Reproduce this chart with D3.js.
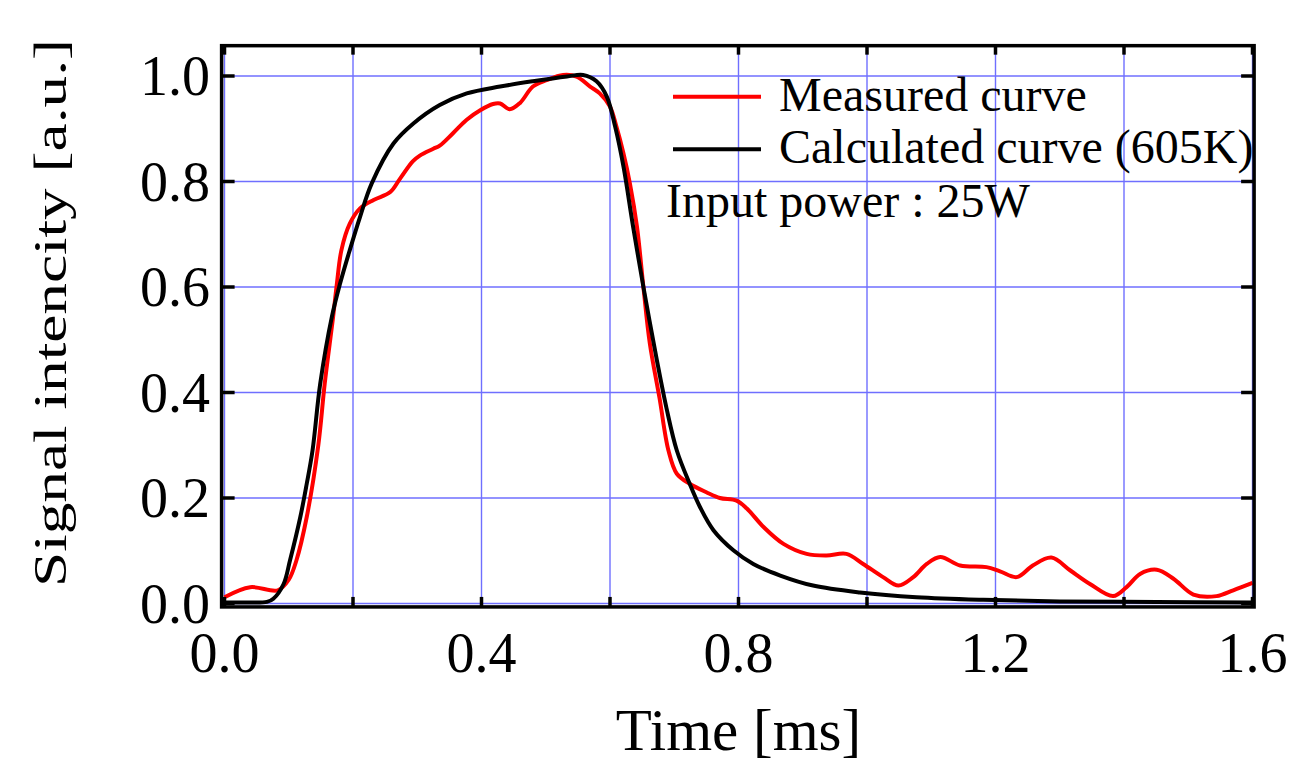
<!DOCTYPE html>
<html>
<head>
<meta charset="utf-8">
<script src="https://cdn.jsdelivr.net/npm/d3@7"></script>
<style>
  html, body { margin: 0; padding: 0; background: #fff; }
  svg { display: block; }
  text { font-family: "Liberation Serif", "Times New Roman", serif; fill: #000; }
</style>
</head>
<body>
<svg id="chart" width="1291" height="765"></svg>
<script>
// ---------- data ----------
const xTicks = [0, 0.2, 0.4, 0.6, 0.8, 1.0, 1.2, 1.4, 1.6];
const xTickLabels = ["0.0", "0.4", "0.8", "1.2", "1.6"];
const xLabelValues = [0, 0.4, 0.8, 1.2, 1.6];
const yTicks = [0, 0.2, 0.4, 0.6, 0.8, 1.0];
const yTickLabels = ["0.0", "0.2", "0.4", "0.6", "0.8", "1.0"];

const measuredTime = [0, 0.04, 0.083, 0.1, 0.112, 0.128, 0.146, 0.156, 0.169, 0.175, 0.182, 0.195, 0.211, 0.232, 0.258, 0.273, 0.293, 0.304, 0.325, 0.335, 0.356, 0.377, 0.398, 0.418, 0.429, 0.444, 0.46, 0.48, 0.501, 0.527, 0.548, 0.569, 0.584, 0.6, 0.61, 0.621, 0.631, 0.642, 0.652, 0.662, 0.677, 0.691, 0.704, 0.724, 0.75, 0.771, 0.797, 0.813, 0.839, 0.87, 0.906, 0.937, 0.968, 0.994, 1.025, 1.049, 1.072, 1.093, 1.114, 1.145, 1.186, 1.207, 1.233, 1.258, 1.287, 1.316, 1.347, 1.383, 1.404, 1.425, 1.451, 1.477, 1.508, 1.544, 1.57, 1.6];
const measuredSignal = [0.012, 0.031, 0.025, 0.045, 0.082, 0.164, 0.3, 0.417, 0.543, 0.607, 0.67, 0.72, 0.749, 0.765, 0.78, 0.805, 0.838, 0.849, 0.862, 0.868, 0.892, 0.917, 0.935, 0.947, 0.948, 0.937, 0.949, 0.98, 0.992, 1.002, 0.999, 0.98, 0.967, 0.942, 0.904, 0.853, 0.796, 0.714, 0.6, 0.493, 0.39, 0.29, 0.246, 0.227, 0.211, 0.2, 0.195, 0.18, 0.145, 0.113, 0.094, 0.091, 0.094, 0.075, 0.05, 0.034, 0.05, 0.075, 0.088, 0.072, 0.069, 0.061, 0.05, 0.072, 0.087, 0.063, 0.037, 0.014, 0.031, 0.056, 0.064, 0.047, 0.017, 0.014, 0.025, 0.039];

const calcTime = [0, 0.03, 0.066, 0.076, 0.092, 0.102, 0.118, 0.128, 0.137, 0.149, 0.167, 0.18, 0.195, 0.211, 0.229, 0.263, 0.294, 0.335, 0.377, 0.429, 0.48, 0.533, 0.558, 0.579, 0.595, 0.608, 0.621, 0.636, 0.652, 0.673, 0.688, 0.704, 0.724, 0.74, 0.761, 0.792, 0.823, 0.865, 0.916, 0.989, 1.077, 1.181, 1.3, 1.45, 1.6];
const calcSignal = [0.002, 0.002, 0.003, 0.009, 0.037, 0.082, 0.164, 0.227, 0.29, 0.417, 0.543, 0.607, 0.67, 0.733, 0.796, 0.872, 0.91, 0.945, 0.967, 0.98, 0.99, 0.999, 1.002, 0.99, 0.961, 0.904, 0.828, 0.714, 0.6, 0.461, 0.37, 0.29, 0.227, 0.183, 0.139, 0.101, 0.075, 0.053, 0.034, 0.021, 0.012, 0.007, 0.004, 0.003, 0.002];

const seriesNames = ["Measured curve", "Calculated curve (605K)"];
const seriesColors = ["#ff0000", "#000000"];
const annotation = "Input power : 25W";
const xTitle = "Time [ms]";
const yTitle = "Signal intencity [a.u.]";

// ---------- layout ----------
const svg = d3.select("#chart");
const x = d3.scaleLinear().domain([0, 1.6]).range([224.5, 1252.5]);
const y = d3.scaleLinear().domain([0, 1]).range([603.5, 76]);

const frame = { left: x(-0.0045), right: x(1.6025), top: y(1.0575), bottom: y(-0.0065) };
const gridColor = "#6f6fff";

// clip
svg.append("defs").append("clipPath").attr("id", "clip")
  .append("rect")
  .attr("x", frame.left).attr("y", frame.top)
  .attr("width", frame.right - frame.left).attr("height", frame.bottom - frame.top);

// grid
const grid = svg.append("g");
grid.selectAll("line.vx").data(xTicks).join("line")
  .attr("x1", d => x(d)).attr("x2", d => x(d))
  .attr("y1", frame.top).attr("y2", frame.bottom)
  .attr("stroke", gridColor).attr("stroke-width", 1.4);
grid.selectAll("line.hy").data(yTicks).join("line")
  .attr("y1", d => y(d)).attr("y2", d => y(d))
  .attr("x1", frame.left).attr("x2", frame.right)
  .attr("stroke", gridColor).attr("stroke-width", 1.4);

// curves
const line = d3.line().x(d => x(d[0])).y(d => y(d[1])).curve(d3.curveCatmullRom.alpha(0.5));
const measured = measuredTime.map((t, i) => [t, measuredSignal[i]]);
const calculated = calcTime.map((t, i) => [t, calcSignal[i]]);
const curves = svg.append("g").attr("clip-path", "url(#clip)");
curves.append("path").datum(measured).attr("d", line)
  .attr("fill", "none").attr("stroke", seriesColors[0]).attr("stroke-width", 4)
  .attr("stroke-linejoin", "round");
curves.append("path").datum(calculated).attr("d", line)
  .attr("fill", "none").attr("stroke", seriesColors[1]).attr("stroke-width", 4)
  .attr("stroke-linejoin", "round");

// frame ticks (inward)
const ticks = svg.append("g").attr("stroke", "#000").attr("stroke-width", 3.5);
ticks.selectAll("line.b").data(xTicks).join("line")
  .attr("x1", d => x(d)).attr("x2", d => x(d)).attr("y1", frame.bottom).attr("y2", frame.bottom - 10);
ticks.selectAll("line.t").data(xTicks).join("line")
  .attr("x1", d => x(d)).attr("x2", d => x(d)).attr("y1", frame.top).attr("y2", frame.top + 9);
ticks.selectAll("line.l").data(yTicks).join("line")
  .attr("y1", d => y(d)).attr("y2", d => y(d)).attr("x1", frame.left).attr("x2", frame.left + 13);
ticks.selectAll("line.r").data(yTicks).join("line")
  .attr("y1", d => y(d)).attr("y2", d => y(d)).attr("x1", frame.right).attr("x2", frame.right - 13);

// frame
svg.append("rect")
  .attr("x", frame.left).attr("y", frame.top)
  .attr("width", frame.right - frame.left).attr("height", frame.bottom - frame.top)
  .attr("fill", "none").attr("stroke", "#000").attr("stroke-width", 3.5);

// tick labels
svg.append("g").selectAll("text").data(yTicks).join("text")
  .attr("x", 210).attr("y", d => y(d) + 19)
  .attr("text-anchor", "end").attr("font-size", 56)
  .text((d, i) => yTickLabels[i]);
svg.append("g").selectAll("text").data(xLabelValues).join("text")
  .attr("x", d => x(d)).attr("y", 672)
  .attr("text-anchor", "middle").attr("font-size", 56)
  .text((d, i) => xTickLabels[i]);

// axis titles
svg.append("text").attr("x", x(0.8)).attr("y", 750)
  .attr("text-anchor", "middle").attr("font-size", 59).text(xTitle);
svg.append("text")
  .attr("transform", "translate(66,313) rotate(-90)")
  .attr("text-anchor", "middle").attr("font-size", 47)
  .attr("textLength", 548).attr("lengthAdjust", "spacingAndGlyphs")
  .text(yTitle);

// legend
const legend = svg.append("g");
const legendRows = [96.7, 149.3];
seriesNames.forEach((name, i) => {
  legend.append("line")
    .attr("x1", 673).attr("x2", 761).attr("y1", legendRows[i]).attr("y2", legendRows[i])
    .attr("stroke", seriesColors[i]).attr("stroke-width", 4);
  legend.append("text").attr("x", 779).attr("y", legendRows[i] + 14)
    .attr("font-size", 48).text(name);
});
legend.append("text").attr("x", 666).attr("y", 217).attr("font-size", 48).text(annotation);
</script>
</body>
</html>
